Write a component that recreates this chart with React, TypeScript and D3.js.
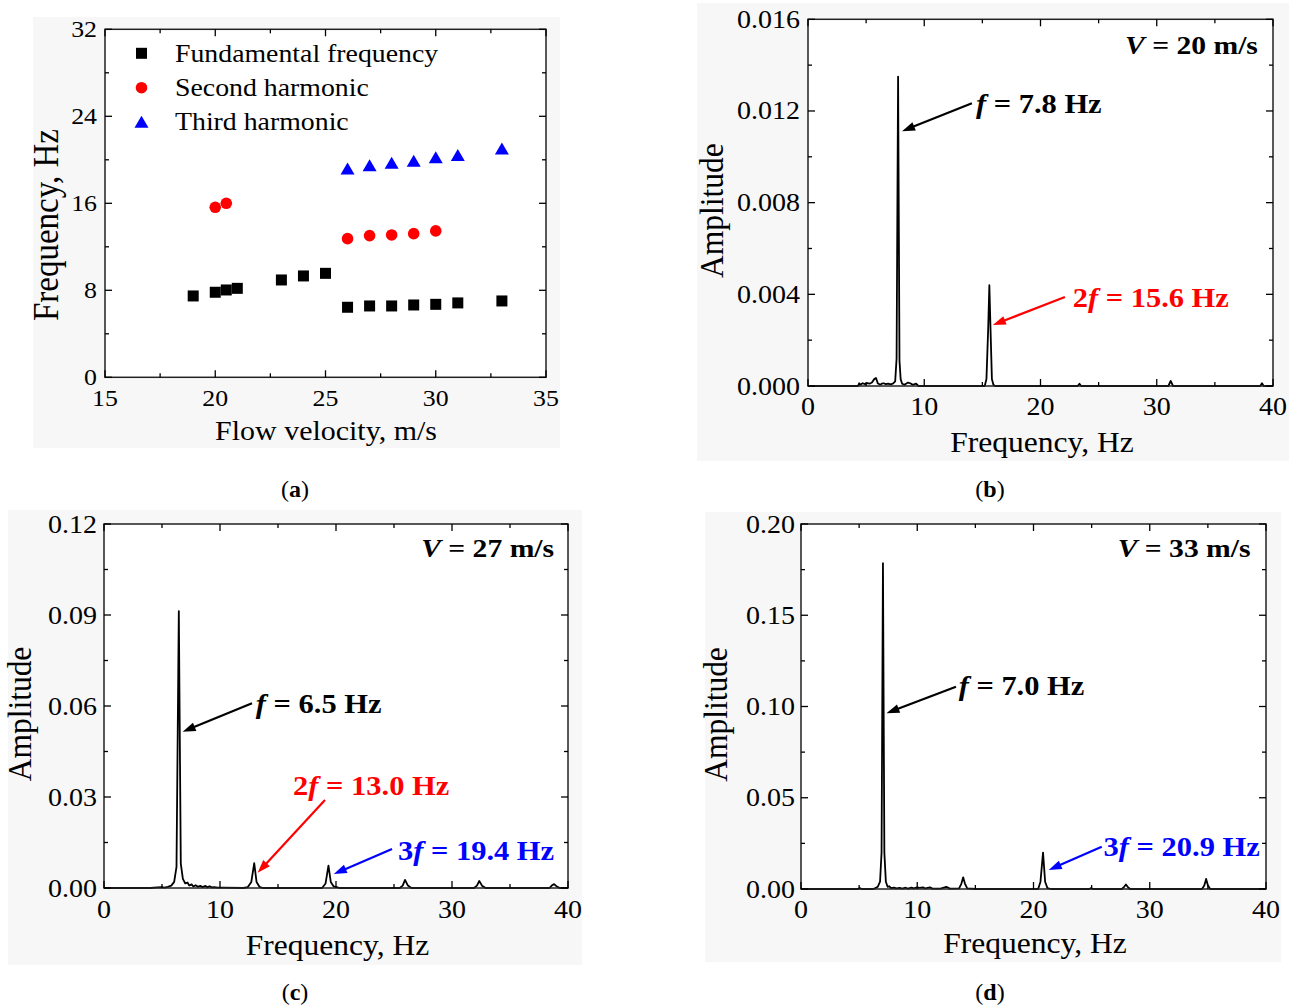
import React from "react";
import * as d3 from "d3";

// ---------- Panel (a) data ----------
const fundV = [19, 20, 20.5, 21, 23, 24, 25, 26, 27, 28, 29, 30, 31, 33];
const fundF = [7.48, 7.82, 8.03, 8.18, 8.95, 9.32, 9.56, 6.44, 6.56, 6.56, 6.65, 6.71, 6.84, 7.02];
const secondV = [20, 20.5, 26, 27, 28, 29, 30];
const secondF = [15.63, 16.0, 12.75, 13.03, 13.09, 13.21, 13.46];
const thirdV = [26, 27, 28, 29, 30, 31, 33];
const thirdF = [19.2, 19.5, 19.74, 19.92, 20.23, 20.44, 21.03];
const legendLabels = ["Fundamental frequency", "Second harmonic", "Third harmonic"];
const aXTicks = [15, 20, 25, 30, 35];
const aYTicks = [0, 8, 16, 24, 32];

// ---------- Spectra data [frequency Hz, amplitude] ----------
const specB: [number, number][] = [
  [0, 0], [4.3, 0], [4.4, 0.00012], [4.5, 0.00005], [4.7, 0.00012], [4.9, 0.00008], [5.1, 0.00013],
  [5.3, 0.0001], [5.5, 0.00015], [5.7, 0.0003], [5.85, 0.00035], [6.0, 0.00012], [6.2, 0.00005],
  [6.35, 0.0001], [6.5, 0.00012], [6.7, 0.00008], [6.9, 0.0001], [7.1, 0.00007], [7.3, 0.0001],
  [7.5, 0.0002], [7.62, 0.0012], [7.75, 0.0135], [7.87, 0.0011], [7.97, 0.0003], [8.1, 0.0001],
  [8.3, 0.00005], [8.6, 0.00015], [8.8, 0.00012], [9.0, 0.00005], [9.3, 0.0001], [9.5, 0],
  [15.2, 0], [15.35, 0.0003], [15.5, 0.0025], [15.6, 0.0044], [15.7, 0.0025], [15.82, 0.0003],
  [15.95, 0.00005], [16.1, 0], [23.2, 0], [23.35, 0.0001], [23.5, 0], [31.0, 0], [31.2, 0.00022],
  [31.4, 0], [38.9, 0], [39.05, 0.00012], [39.2, 0], [40, 0],
];
const specC: [number, number][] = [
  [0, 0], [4.0, 0], [4.6, 0.0002], [5.0, 0.0003], [5.2, 0.0001], [5.5, 0.0004], [5.8, 0.0008],
  [6.05, 0.002], [6.25, 0.007], [6.45, 0.0913], [6.62, 0.008], [6.8, 0.003], [7.0, 0.0015],
  [7.2, 0.0018], [7.35, 0.0008], [7.55, 0.0012], [7.7, 0.0005], [7.9, 0.0009], [8.1, 0.0004],
  [8.3, 0.0007], [8.5, 0.0003], [8.75, 0.0007], [8.9, 0.0002], [9.1, 0.0006], [9.3, 0.0002],
  [9.5, 0.0003], [9.8, 0.0001], [10.3, 0.0001], [12.0, 0], [12.4, 0.0003], [12.7, 0.002],
  [12.95, 0.0082], [13.15, 0.002], [13.4, 0.0004], [13.7, 0], [18.8, 0], [19.1, 0.0015],
  [19.35, 0.0074], [19.55, 0.002], [19.8, 0.0005], [20.0, 0.0004], [20.3, 0], [25.5, 0],
  [25.75, 0.0008], [25.95, 0.0027], [26.2, 0.0008], [26.5, 0], [31.9, 0], [32.15, 0.0008],
  [32.35, 0.0023], [32.6, 0.0007], [32.9, 0], [38.4, 0], [38.6, 0.0008], [38.8, 0.0013],
  [39.0, 0.0006], [39.3, 0], [40, 0],
];
const specD: [number, number][] = [
  [0, 0], [4.9, 0], [5.05, 0.0006], [5.2, 0], [6.2, 0], [6.4, 0.0005], [6.6, 0.0012], [6.8, 0.004],
  [6.93, 0.02], [7.05, 0.1785], [7.17, 0.02], [7.3, 0.004], [7.45, 0.0012], [7.6, 0.0015],
  [7.75, 0.0005], [8.0, 0.0008], [8.2, 0.0003], [8.5, 0.0006], [8.7, 0.0002], [9.0, 0.0007],
  [9.2, 0.0002], [9.5, 0.0008], [9.7, 0.0003], [10.0, 0.0009], [10.2, 0.0006], [10.5, 0.0009],
  [10.7, 0.0003], [11.1, 0.0009], [11.3, 0.0002], [12.0, 0.0002], [12.5, 0.0012], [12.8, 0.0002],
  [13.6, 0.0003], [13.8, 0.003], [13.95, 0.0064], [14.1, 0.003], [14.3, 0.0003], [15, 0],
  [20.4, 0], [20.6, 0.004], [20.82, 0.0199], [21.0, 0.004], [21.2, 0.0005], [21.5, 0], [24.8, 0],
  [24.95, 0.0005], [25.1, 0], [27.6, 0], [27.8, 0.0012], [27.95, 0.0025], [28.1, 0.0012],
  [28.3, 0], [34.5, 0], [34.7, 0.002], [34.85, 0.0055], [35.0, 0.002], [35.2, 0], [40, 0],
];
const specXTicks = [0, 10, 20, 30, 40];
const bYTicks = [0, 0.004, 0.008, 0.012, 0.016];
const cYTicks = [0, 0.03, 0.06, 0.09, 0.12];
const dYTicks = [0, 0.05, 0.1, 0.15, 0.2];

type Ann = { pre: string; it: string; rest: string; color: string; tx: number; ty: number; ax: number; ay: number; hx: number; hy: number };
const annB: Ann[] = [
  { pre: "", it: "f", rest: " = 7.8 Hz", color: "#000", tx: 14.45, ty: 0.0119, ax: 14.1, ay: 0.01234, hx: 8.09, hy: 0.01112 },
  { pre: "2", it: "f", rest: " = 15.6 Hz", color: "#ff0000", tx: 22.77, ty: 0.00344, ax: 22.1, ay: 0.00388, hx: 15.9, hy: 0.00266 },
];
const annC: Ann[] = [
  { pre: "", it: "f", rest: " = 6.5 Hz", color: "#000", tx: 13.09, ty: 0.0577, ax: 12.76, ay: 0.0609, hx: 6.78, hy: 0.0515 },
  { pre: "2", it: "f", rest: " = 13.0 Hz", color: "#ff0000", tx: 16.3, ty: 0.0307, ax: 19.05, ay: 0.029, hx: 13.25, hy: 0.00504 },
  { pre: "3", it: "f", rest: " = 19.4 Hz", color: "#0000ff", tx: 25.34, ty: 0.00923, ax: 24.83, ay: 0.01286, hx: 19.81, hy: 0.00462 },
];
const annD: Ann[] = [
  { pre: "", it: "f", rest: " = 7.0 Hz", color: "#000", tx: 13.56, ty: 0.1063, ax: 13.33, ay: 0.1108, hx: 7.35, hy: 0.0963 },
  { pre: "3", it: "f", rest: " = 20.9 Hz", color: "#0000ff", tx: 26.03, ty: 0.0181, ax: 25.87, ay: 0.0232, hx: 21.31, hy: 0.0104 },
];
const velLabels = ["20", "27", "33"];

const FONT = "'Liberation Serif', 'Times New Roman', Times, serif";

function T(props: any) {
  const { x, y, anchor = "start", size = 24, sx = 1.07, weight = "normal", fill = "#000", rotate = false, children } = props;
  return (
    <text
      transform={`translate(${x},${y}) scale(${sx},1)${rotate ? " rotate(-90)" : ""}`}
      textAnchor={anchor}
      fontSize={size}
      fontWeight={weight}
      fill={fill}
      fontFamily={FONT}
    >
      {children}
    </text>
  );
}

function Frame({ x, y, xMajor, xMinor, yMajor, yMinor }: any) {
  const [x0, x1] = x.range();
  const [y0, y1] = y.range();
  const M = 7, m = 4;
  const lines: any[] = [];
  xMajor.forEach((t: number, i: number) => {
    lines.push(<line key={"xb" + i} x1={x(t)} x2={x(t)} y1={y0} y2={y0 - M} />);
    lines.push(<line key={"xt" + i} x1={x(t)} x2={x(t)} y1={y1} y2={y1 + M} />);
  });
  xMinor.forEach((t: number, i: number) => {
    lines.push(<line key={"xbm" + i} x1={x(t)} x2={x(t)} y1={y0} y2={y0 - m} />);
    lines.push(<line key={"xtm" + i} x1={x(t)} x2={x(t)} y1={y1} y2={y1 + m} />);
  });
  yMajor.forEach((t: number, i: number) => {
    lines.push(<line key={"yl" + i} x1={x0} x2={x0 + M} y1={y(t)} y2={y(t)} />);
    lines.push(<line key={"yr" + i} x1={x1} x2={x1 - M} y1={y(t)} y2={y(t)} />);
  });
  yMinor.forEach((t: number, i: number) => {
    lines.push(<line key={"ylm" + i} x1={x0} x2={x0 + m} y1={y(t)} y2={y(t)} />);
    lines.push(<line key={"yrm" + i} x1={x1} x2={x1 - m} y1={y(t)} y2={y(t)} />);
  });
  return (
    <g stroke="#000" strokeWidth={1.3} fill="none">
      <rect x={x0} y={y1} width={x1 - x0} height={y0 - y1} stroke="#222" strokeWidth={1.5} />
      {lines}
    </g>
  );
}

function mids(ticks: number[]) {
  const r: number[] = [];
  for (let i = 0; i < ticks.length - 1; i++) r.push((ticks[i] + ticks[i + 1]) / 2);
  return r;
}

function Arrow({ x1, y1, x2, y2, color }: any) {
  const ang = Math.atan2(y2 - y1, x2 - x1);
  const L = 13, W = 4.5;
  const bx = x2 - L * Math.cos(ang), by = y2 - L * Math.sin(ang);
  const px = -Math.sin(ang) * W, py = Math.cos(ang) * W;
  return (
    <g>
      <line x1={x1} y1={y1} x2={bx + 2 * Math.cos(ang)} y2={by + 2 * Math.sin(ang)} stroke={color} strokeWidth={2.2} />
      <polygon points={`${x2},${y2} ${bx + px},${by + py} ${bx - px},${by - py}`} fill={color} />
    </g>
  );
}

function ScatterPanel() {
  const x = d3.scaleLinear().domain([15, 35]).range([105, 546]);
  const y = d3.scaleLinear().domain([0, 32]).range([377.3, 29.3]);
  const sq = 11, cr = 5.8, tw = 14, th = 12;
  const tri = (cx: number, cy: number) => `${cx},${cy - th / 2} ${cx + tw / 2},${cy + th / 2} ${cx - tw / 2},${cy + th / 2}`;
  const legY = [53.3, 87.7, 121.7];
  return (
    <g>
      <rect x={33} y={17} width={527} height={431} fill="#f7f7f7" />
      <rect x={105} y={29.3} width={441} height={348} fill="#fff" />
      {fundV.map((v, i) => (
        <rect key={"f" + i} x={x(v) - sq / 2} y={y(fundF[i]) - sq / 2} width={sq} height={sq} fill="#000" />
      ))}
      {secondV.map((v, i) => (
        <circle key={"s" + i} cx={x(v)} cy={y(secondF[i])} r={cr} fill="#ff0000" />
      ))}
      {thirdV.map((v, i) => (
        <polygon key={"t" + i} points={tri(x(v), y(thirdF[i]))} fill="#0000ff" />
      ))}
      <Frame x={x} y={y} xMajor={aXTicks} xMinor={mids(aXTicks)} yMajor={aYTicks} yMinor={mids(aYTicks)} />
      {aXTicks.map((t) => (
        <T key={"xl" + t} x={x(t)} y={406} anchor="middle" size={23.5} sx={1.1}>{t}</T>
      ))}
      {aYTicks.map((t) => (
        <T key={"yl" + t} x={97} y={y(t) + 8} anchor="end" size={23.5} sx={1.1}>{t}</T>
      ))}
      <T x={326} y={440} anchor="middle" size={28}>Flow velocity, m/s</T>
      <T x={58} y={225} anchor="middle" size={33} rotate>Frequency, Hz</T>
      <rect x={141.5 - 5.5} y={legY[0] - 5.5} width={11} height={11} fill="#000" />
      <circle cx={141.5} cy={legY[1]} r={5.8} fill="#ff0000" />
      <polygon points={tri(141.5, legY[2])} fill="#0000ff" />
      {legendLabels.map((l, i) => (
        <T key={l} x={175} y={legY[i] + 8.5} size={26}>{l}</T>
      ))}
    </g>
  );
}

function SpectrumPanel({ bg, xr, yr, yDomain, yTicks, fmt, data, anns, vel, yTitleX, xTitleY, tickY, yLabelX }: any) {
  const x = d3.scaleLinear().domain([0, 40]).range(xr);
  const y = d3.scaleLinear().domain(yDomain).range(yr);
  const line = d3.line<[number, number]>().x((d) => x(d[0])).y((d) => y(d[1]));
  const f = d3.format(fmt);
  return (
    <g>
      <rect x={bg[0]} y={bg[1]} width={bg[2] - bg[0]} height={bg[3] - bg[1]} fill="#f7f7f7" />
      <rect x={xr[0]} y={yr[1]} width={xr[1] - xr[0]} height={yr[0] - yr[1]} fill="#fff" />
      <path d={line(data) || ""} fill="none" stroke="#000" strokeWidth={1.8} strokeLinejoin="round" />
      <Frame x={x} y={y} xMajor={specXTicks} xMinor={mids(specXTicks)} yMajor={yTicks} yMinor={mids(yTicks)} />
      {specXTicks.map((t) => (
        <T key={"xl" + t} x={x(t)} y={tickY} anchor="middle" size={25} sx={1.12}>{t}</T>
      ))}
      {yTicks.map((t: number) => (
        <T key={"yl" + t} x={yLabelX} y={y(t) + 8.5} anchor="end" size={25} sx={1.12}>{f(t)}</T>
      ))}
      <T x={(xr[0] + xr[1]) / 2 + 1.5} y={xTitleY} anchor="middle" size={29.5}>Frequency, Hz</T>
      <T x={yTitleX} y={(yr[0] + yr[1]) / 2 + 8} anchor="middle" size={31.5} rotate>Amplitude</T>
      {anns.map((a: Ann, i: number) => (
        <g key={"a" + i}>
          <Arrow x1={x(a.ax)} y1={y(a.ay)} x2={x(a.hx)} y2={y(a.hy)} color={a.color} />
          <T x={x(a.tx)} y={y(a.ty)} size={26.5} sx={1.15} weight="bold" fill={a.color}>
            {a.pre}
            <tspan fontStyle="italic">{a.it}</tspan>
            {a.rest}
          </T>
        </g>
      ))}
      <T x={x(vel[1])} y={y(vel[2])} anchor="end" size={26} sx={1.14} weight="bold">
        <tspan fontStyle="italic">V</tspan>
        {` = ${vel[0]} m/s`}
      </T>
    </g>
  );
}

function Caption({ x, y, letter }: any) {
  return (
    <T x={x} y={y} anchor="middle" size={24} sx={1.0}>
      (<tspan fontWeight="bold">{letter}</tspan>)
    </T>
  );
}

export default function App() {
  return (
    <svg width={1293} height={1008} style={{ position: "absolute", left: 0, top: 0, background: "#fff" }}>
      <rect x={0} y={0} width={1293} height={1008} fill="#fff" />
      <ScatterPanel />
      <SpectrumPanel
        bg={[697, 3, 1289, 461]}
        xr={[808, 1273]}
        yr={[386, 19.3]}
        yDomain={[0, 0.016]}
        yTicks={bYTicks}
        fmt=".3f"
        data={specB}
        anns={annB}
        vel={[velLabels[0], 38.7, 0.01447]}
        yTitleX={723}
        xTitleY={452}
        tickY={415}
        yLabelX={800}
      />
      <SpectrumPanel
        bg={[8, 510, 582, 965]}
        xr={[104, 568]}
        yr={[888, 524]}
        yDomain={[0, 0.12]}
        yTicks={cYTicks}
        fmt=".2f"
        data={specC}
        anns={annC}
        vel={[velLabels[1], 38.8, 0.1091]}
        yTitleX={31}
        xTitleY={955}
        tickY={918}
        yLabelX={97}
      />
      <SpectrumPanel
        bg={[705, 512, 1281, 962]}
        xr={[801, 1266]}
        yr={[889, 524]}
        yDomain={[0, 0.2]}
        yTicks={dYTicks}
        fmt=".2f"
        data={specD}
        anns={annD}
        vel={[velLabels[2], 38.67, 0.1819]}
        yTitleX={727}
        xTitleY={953}
        tickY={918}
        yLabelX={795}
      />
      <Caption x={295} y={497} letter="a" />
      <Caption x={990} y={497} letter="b" />
      <Caption x={295} y={1000} letter="c" />
      <Caption x={990} y={1000} letter="d" />
    </svg>
  );
}
